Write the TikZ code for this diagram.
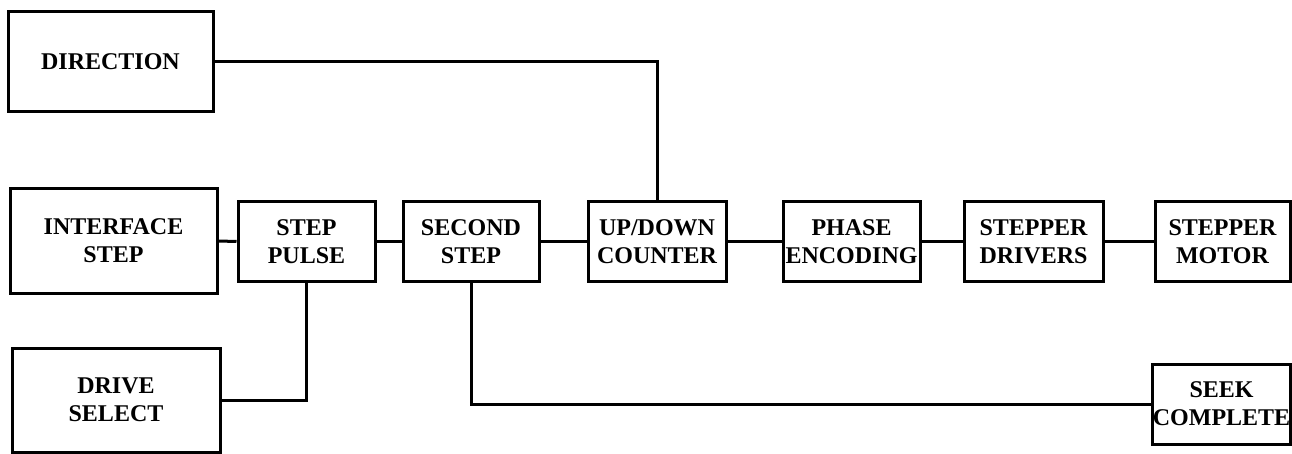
\documentclass[tikz,border=0pt]{standalone}
\usepackage{fontspec}
\setmainfont{Liberation Serif}
\begin{document}
\begin{tikzpicture}[x=1pt,y=-1pt,
  blk/.style={draw, line width=3pt, align=center, inner sep=0pt,
    font=\fontsize{24}{28}\selectfont\bfseries},
  wire/.style={line width=3pt}]
\useasboundingbox (0,0) rectangle (1292,454);
\node[blk, minimum width=205pt, minimum height=100pt] (dir) at (110.5,62) {DIRECTION};
\node[blk, minimum width=207pt, minimum height=104pt] (ifs) at (113.5,241) {INTERFACE\\STEP};
\node[blk, minimum width=137pt, minimum height=79pt] (sp) at (306.5,241.5) {STEP\\PULSE};
\node[blk, minimum width=136pt, minimum height=79pt] (ss) at (471,241.5) {SECOND\\STEP};
\node[blk, minimum width=138pt, minimum height=79pt] (ud) at (657,241.5) {UP/DOWN\\COUNTER};
\node[blk, minimum width=137pt, minimum height=79pt] (pe) at (851.5,241.5) {PHASE\\ENCODING};
\node[blk, minimum width=139pt, minimum height=79pt] (sd) at (1033.5,241.5) {STEPPER\\DRIVERS};
\node[blk, minimum width=135pt, minimum height=79pt] (sm) at (1222.5,241.5) {STEPPER\\MOTOR};
\node[blk, minimum width=208pt, minimum height=104pt] (ds) at (116,400) {DRIVE\\SELECT};
\node[blk, minimum width=137pt, minimum height=80pt] (sc) at (1221.5,404) {SEEK\\COMPLETE};
\draw[wire] (dir.east) -| (ud.north);
\draw[wire] (ifs.east) -- (sp.west);
\draw[wire] (sp.east) -- (ss.west);
\draw[wire] (ss.east) -- (ud.west);
\draw[wire] (ud.east) -- (pe.west);
\draw[wire] (pe.east) -- (sd.west);
\draw[wire] (sd.east) -- (sm.west);
\draw[wire] (sp.south) |- (ds.east);
\draw[wire] (ss.south) |- (sc.west);
\end{tikzpicture}
\end{document}
